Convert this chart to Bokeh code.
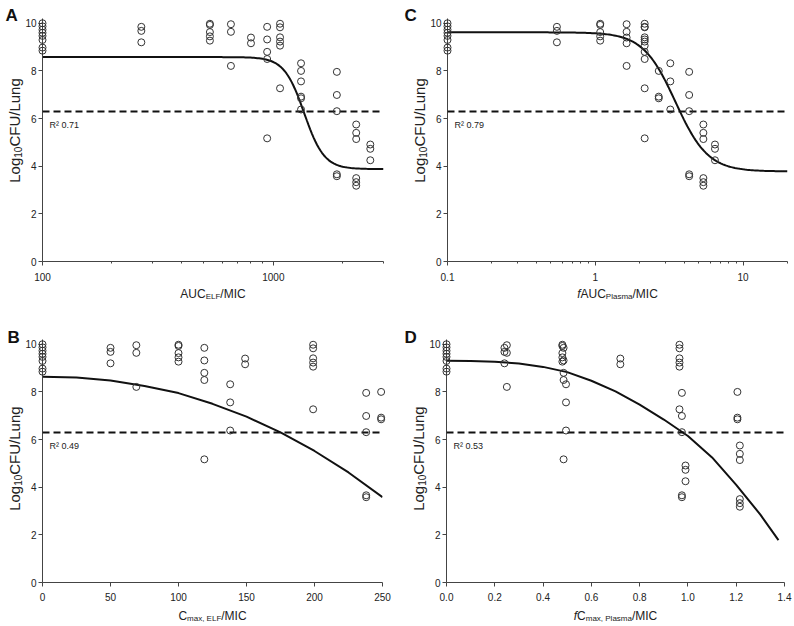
import math
from bokeh.plotting import figure
from bokeh.models import Span, FixedTicker, CustomJSTickFormatter, PrintfTickFormatter
from bokeh.core.properties import value
from bokeh.layouts import column, row
from bokeh.embed import file_html
from bokeh.resources import INLINE

# ---------------- data ----------------
# Log10 CFU/lung of each dose group (same animals in all four panels)
g0_control = [10.0, 9.87, 9.73, 9.6, 9.47, 9.3, 8.98, 8.85]
g1 = [9.85, 9.68, 9.2]
g2 = [9.96, 9.64, 8.21]
g3 = [9.98, 9.93, 9.63, 9.45, 9.27]
g4 = [9.85, 9.32, 8.8, 8.5, 5.17]
g5 = [8.32, 7.56, 6.38]
g6 = [9.98, 9.83, 9.41, 9.23, 9.06, 7.27]
g7 = [9.4, 9.16]
g8 = [7.96, 6.99, 6.31, 3.66, 3.58]
g9 = [8.0, 6.92, 6.85]
g10 = [5.75, 5.4, 5.14, 3.5, 3.33, 3.18]
g11 = [4.91, 4.73, 4.25]
groups = [g0_control, g1, g2, g3, g4, g5, g6, g7, g8, g9, g10, g11]

# exposure index of each group in each panel (None = beyond the plotted axis)
auc_elf_mic = [100, 268, 655, 531, 940, 1318, 1069, 800, 1884, 1318, 2285, 2630]
cmax_elf_mic = [0, 50, 69, 100, 119, 138, 199, 149, 238, 249, None, None]
fauc_plasma_mic = [0.1, 0.55, 1.63, 1.08, 2.16, 3.22, 2.16, 1.63, 4.32, 2.69, 5.39, 6.46]
fcmax_plasma_mic = [0, 0.24, 0.25, 0.48, 0.485, 0.495, 0.965, 0.72, 0.975, 1.205, 1.215, 0.99]

stasis_level = 6.3
r2_text = {"A": "R\u00b2 0.71", "B": "R\u00b2 0.49", "C": "R\u00b2 0.79", "D": "R\u00b2 0.53"}

# sigmoid Emax fits (parameters)
fit_A = dict(top=8.58, bottom=3.88, ec50=1360, hill=10.0)
fit_C = dict(top=9.62, bottom=3.78, ec50=3.49, hill=3.95)
# curves of panels B and D, read point by point
curve_B_x = [0, 25, 50, 75, 100, 125, 150, 175, 200, 225, 250]
curve_B_y = [8.64, 8.60, 8.48, 8.25, 7.95, 7.50, 6.96, 6.30, 5.52, 4.62, 3.58]
curve_D_x = [0, 0.1, 0.2, 0.3, 0.4, 0.5, 0.6, 0.7, 0.8, 0.9, 1.0, 1.1, 1.2, 1.3, 1.375]
curve_D_y = [9.31, 9.30, 9.27, 9.19, 9.05, 8.83, 8.47, 8.02, 7.47, 6.84, 6.15, 5.25, 4.1, 2.85, 1.78]

y_ticks = [0, 2, 4, 6, 8, 10]
y_max = 10.2

FONT = "Liberation Sans"
AXC = "#444444"
TXT = "#222222"

# Arial / Liberation Sans advance widths (1/1000 em)
W = {' ': 278, ',': 278, '.': 278, '/': 278, 'A': 667, 'C': 722, 'E': 667, 'F': 611,
     'I': 278, 'L': 556, 'M': 833, 'P': 667, 'U': 722, 'R': 722, 'a': 556, 'e': 556,
     'f': 278, 'g': 556, 'l': 222, 'm': 833, 'n': 556, 'o': 556, 's': 500, 'u': 556,
     'x': 500}


def tw(s, size):
    return sum(W.get(c, 556) for c in s) * size / 1000.0


def add_text(p, x, y, s, size, dx=0, dy=0, style="normal", angle=0.0, color=TXT):
    p.text(x=[x], y=[y], text=[s], x_offset=dx, y_offset=dy, angle=angle,
           text_font=value(FONT), text_font_size=value(f"{size}px"),
           text_font_style=value(style), text_color=color,
           text_align="left", text_baseline="alphabetic", level="overlay")


def rich_label(p, x, y, pieces, dx, dy, angle=0.0):
    # pieces: (text, size, style, shift up in px); dx/dy screen offsets (dy down-positive)
    total = sum(tw(t, sz) for t, sz, st, sh in pieces)
    pos = -total / 2.0
    for t, sz, st, sh in pieces:
        if angle == 0:
            add_text(p, x, y, t, sz, dx + pos, dy - sh, st)
        else:
            add_text(p, x, y, t, sz, dx - sh, dy - pos, st, angle)
        pos += tw(t, sz)


def make_panel(letter, xs, x_range, x_log, size, borders, xlabel_pieces, curve_x, curve_y,
               xticks, xminor, xfmt, xlab_dy, letter_dx, letter_dy, ylab_dx, ylab_y, xstand):
    left, right, top, bottom = borders
    p = figure(width=size[0], height=size[1], x_range=x_range, y_range=(0, y_max),
               x_axis_type="log" if x_log else "linear",
               output_backend="svg", toolbar_location=None,
               min_border_left=left, min_border_right=right,
               min_border_top=top, min_border_bottom=bottom)
    p.outline_line_color = None
    p.xgrid.visible = False
    p.ygrid.visible = False
    p.background_fill_color = "white"
    p.border_fill_color = "white"

    for ax in (p.xaxis[0], p.yaxis[0]):
        ax.axis_line_color = AXC
        ax.major_tick_line_color = AXC
        ax.minor_tick_line_color = AXC
        ax.major_tick_out = 4
        ax.major_tick_in = 0
        ax.minor_tick_out = 2
        ax.minor_tick_in = 0
        ax.major_label_text_font = FONT
        ax.major_label_text_font_size = "10px"
        ax.major_label_text_color = TXT
        ax.major_label_standoff = 2
        ax.axis_label = None
    p.xaxis[0].major_label_standoff = xstand
    p.yaxis[0].ticker = FixedTicker(ticks=y_ticks)
    p.yaxis[0].minor_tick_line_color = None
    p.xaxis[0].ticker = FixedTicker(ticks=xticks, minor_ticks=xminor)
    if not xminor:
        p.xaxis[0].minor_tick_line_color = None
    p.xaxis[0].formatter = xfmt

    # threshold line
    p.add_layout(Span(location=stasis_level, dimension="width", line_color="#111111",
                      line_width=2, line_dash="7 4"))
    # fitted curve
    p.line(curve_x, curve_y, line_color="#111111", line_width=2)
    # observations
    px, py = [], []
    for gx, gy in zip(xs, groups):
        if gx is None:
            continue
        px += [gx] * len(gy)
        py += gy
    p.scatter(px, py, marker="circle", size=7, fill_color=None, line_color="#333333",
              line_width=1, level="overlay")

    x0 = x_range[0]
    xc = math.sqrt(x_range[0] * x_range[1]) if x_log else (x_range[0] + x_range[1]) / 2.0
    # R2
    add_text(p, x0, stasis_level, r2_text[letter], 9, 7, 14)
    # panel letter
    add_text(p, x0, y_max, letter, 17, letter_dx, letter_dy, "bold", color="#111111")
    # x label
    rich_label(p, xc, 0, xlabel_pieces, 0, xlab_dy)
    # y label
    ylab = [("Log", 15, "normal", 0), ("10", 10, "normal", -3), ("CFU/Lung", 15, "normal", 0)]
    rich_label(p, x0, ylab_y, ylab, ylab_dx, 0, angle=math.pi / 2)
    return p


def hill(xv, f):
    return f["bottom"] + (f["top"] - f["bottom"]) / (1.0 + (xv / f["ec50"]) ** f["hill"])


# curve x positions for the sigmoid panels (log-spaced over the axis)
cA_x = [100 * (3000 / 100) ** (i / 200.0) for i in range(201)]
cA_y = [hill(v, fit_A) for v in cA_x]
cC_x = [0.1 * (20 / 0.1) ** (i / 200.0) for i in range(201)]
cC_y = [hill(v, fit_C) for v in cC_x]

pA = make_panel("A", auc_elf_mic, (100, 3000), True, (397, 310), (42, 14, 18, 49),
                [("AUC", 12, "normal", 0), ("ELF", 8, "normal", -3), ("/MIC", 12, "normal", 0)],
                cA_x, cA_y, [100, 1000], [200, 300, 400, 500, 600, 700, 800, 900, 2000, 3000],
                CustomJSTickFormatter(code="return tick.toString()"), 32, -37, -3, -28, 5.5, 7)
pC = make_panel("C", fauc_plasma_mic, (0.1, 20), True, (396, 310), (50, 6, 18, 49),
                [("f", 12, "italic", 0), ("AUC", 12, "normal", 0), ("Plasma", 8, "normal", -3),
                 ("/MIC", 12, "normal", 0)],
                cC_x, cC_y, [0.1, 1, 10],
                [0.2, 0.3, 0.4, 0.5, 0.6, 0.7, 0.8, 0.9, 2, 3, 4, 5, 6, 7, 8, 9, 20],
                CustomJSTickFormatter(code="return tick.toString()"), 32, -43, -3, -28, 5.5, 7)
pB = make_panel("B", cmax_elf_mic, (0, 250), False, (397, 315), (42, 15, 29, 43),
                [("C", 12, "normal", 0), ("max, ELF", 8, "normal", -3), ("/MIC", 12, "normal", 0)],
                curve_B_x, curve_B_y, [0, 50, 100, 150, 200, 250], [],
                PrintfTickFormatter(format="%d"), 33, -35, -2, -28, 5.2, 6)
pD = make_panel("D", fcmax_plasma_mic, (0, 1.4), False, (396, 315), (49, 9, 29, 43),
                [("f", 12, "italic", 0), ("C", 12, "normal", 0), ("max, Plasma", 8, "normal", -3),
                 ("/MIC", 12, "normal", 0)],
                curve_D_x, curve_D_y, [0, 0.2, 0.4, 0.6, 0.8, 1.0, 1.2, 1.4], [],
                PrintfTickFormatter(format="%.1f"), 33, -42, -2, -28, 5.2, 6)

layout = column(row(pA, pC), row(pB, pD))
open("out.html", "w").write(file_html(layout, INLINE))
